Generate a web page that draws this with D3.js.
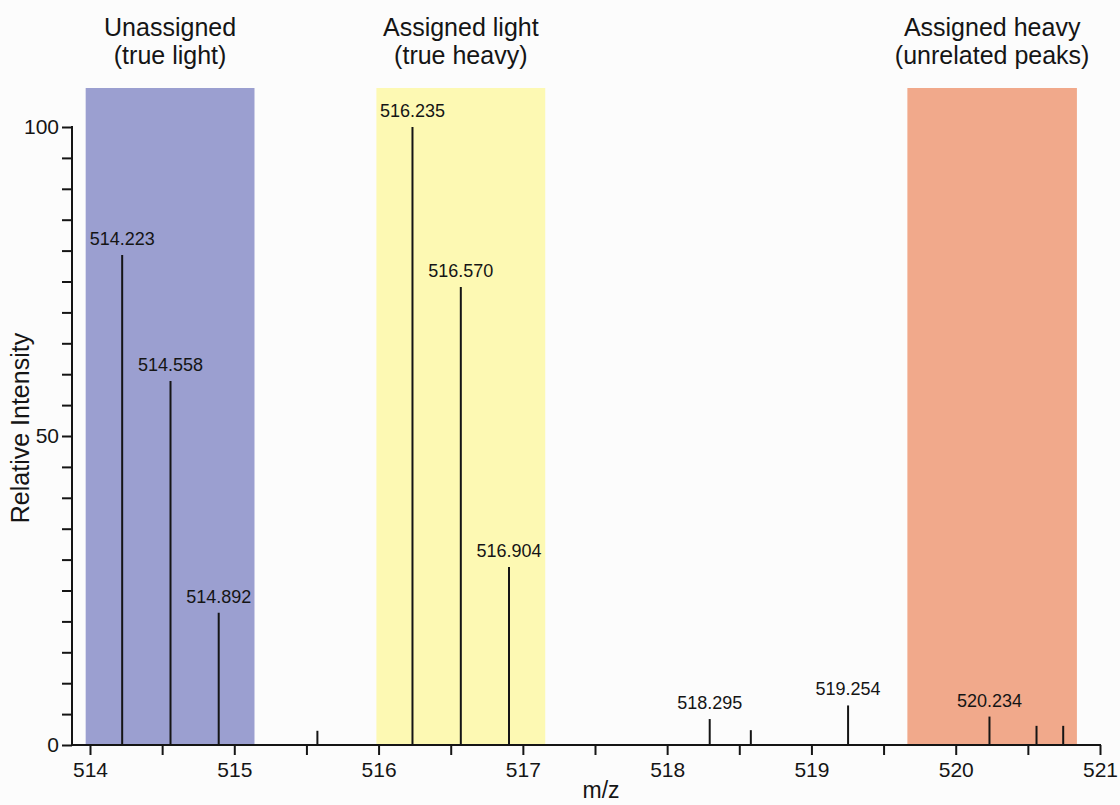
<!DOCTYPE html>
<html>
<head>
<meta charset="utf-8">
<script src="https://cdn.jsdelivr.net/npm/d3@7"></script>
<style>
  html, body { margin: 0; padding: 0; background: #fcfcfc; }
  svg { display: block; font-family: "Liberation Sans", Arial, sans-serif; }
</style>
</head>
<body>
<svg id="chart" width="1120" height="805"></svg>
<script>
// Peak list: m/z, relative intensity, and whether the m/z value is printed
const peakMz        = [514.223, 514.558, 514.892, 515.576, 516.235, 516.570, 516.904, 518.295, 518.580, 519.254, 520.234, 520.560, 520.745];
const peakIntensity = [79.3,    58.9,    21.4,    2.3,     100,     74.1,    28.8,    4.2,     2.4,     6.4,     4.6,     3.1,     3.1];
const peakLabeled   = [true,    true,    true,    false,   true,    true,    true,    true,    false,   true,    true,    false,   false];

// Shaded m/z windows with their captions
const bandStart  = [513.97, 515.985, 519.665];
const bandEnd    = [515.14, 517.155, 520.84];
const bandColor  = ["#9b9fd0", "#fdf9b3", "#f1a98b"];
const bandTitle1 = ["Unassigned", "Assigned light", "Assigned heavy"];
const bandTitle2 = ["(true light)", "(true heavy)", "(unrelated peaks)"];

const xMajorTicks = [514, 515, 516, 517, 518, 519, 520, 521];
const yMajorTicks = [0, 50, 100];

const ink = "#151515";
const svg = d3.select("#chart");
const x = d3.scaleLinear().domain([514, 521]).range([90, 1100]);
const y = d3.scaleLinear().domain([0, 100]).range([745, 127]);
const axisY0 = y(0), axisX0 = 72;

// Shaded windows
const bands = bandStart.map((s, i) => ({s, e: bandEnd[i], c: bandColor[i], t1: bandTitle1[i], t2: bandTitle2[i]}));
svg.selectAll("rect.band").data(bands).join("rect")
  .attr("class", "band")
  .attr("x", d => x(d.s)).attr("width", d => x(d.e) - x(d.s))
  .attr("y", 88).attr("height", axisY0 - 88)
  .attr("fill", d => d.c);

svg.selectAll("text.t1").data(bands).join("text")
  .attr("class", "t1")
  .attr("x", d => (x(d.s) + x(d.e)) / 2).attr("y", 36)
  .attr("text-anchor", "middle").attr("font-size", 25).attr("fill", ink)
  .text(d => d.t1);
svg.selectAll("text.t2").data(bands).join("text")
  .attr("class", "t2")
  .attr("x", d => (x(d.s) + x(d.e)) / 2).attr("y", 64)
  .attr("text-anchor", "middle").attr("font-size", 25).attr("fill", ink)
  .text(d => d.t2);

// Peaks
const peaks = peakMz.map((m, i) => ({m, v: peakIntensity[i], lab: peakLabeled[i]}));
svg.selectAll("line.peak").data(peaks).join("line")
  .attr("class", "peak")
  .attr("x1", d => x(d.m)).attr("x2", d => x(d.m))
  .attr("y1", axisY0).attr("y2", d => y(d.v))
  .attr("stroke", ink).attr("stroke-width", 2);
svg.selectAll("text.plab").data(peaks.filter(d => d.lab)).join("text")
  .attr("class", "plab")
  .attr("x", d => x(d.m)).attr("y", d => y(d.v) - 10)
  .attr("text-anchor", "middle").attr("font-size", 18).attr("fill", ink)
  .text(d => d.m.toFixed(3));

// X axis
const xAxis = d3.axisBottom(x)
  .tickValues(d3.range(514, 521.01, 0.5))
  .tickSize(10).tickPadding(7)
  .tickFormat(d => xMajorTicks.includes(d) ? d3.format("d")(d) : "");
const gx = svg.append("g").attr("transform", `translate(0,${axisY0})`).call(xAxis);
gx.select(".domain").remove();
gx.append("line").attr("x1", axisX0).attr("x2", x(521) + 1).attr("y1", 0).attr("y2", 0)
  .attr("stroke", ink).attr("stroke-width", 2);
gx.selectAll(".tick line").attr("stroke", ink).attr("stroke-width", 2);
gx.selectAll(".tick text").attr("font-size", 21).attr("fill", ink)
  .attr("font-family", "Liberation Sans, Arial, sans-serif");

// Y axis
const yAxis = d3.axisLeft(y)
  .tickValues(d3.range(0, 100.01, 5))
  .tickSize(10).tickPadding(3)
  .tickFormat(d => yMajorTicks.includes(d) ? d3.format("d")(d) : "");
const gy = svg.append("g").attr("transform", `translate(${axisX0},0)`).call(yAxis);
gy.select(".domain").remove();
gy.append("line").attr("x1", 0).attr("x2", 0).attr("y1", y(100) - 1).attr("y2", axisY0 + 1)
  .attr("stroke", ink).attr("stroke-width", 2);
gy.selectAll(".tick line").attr("stroke", ink).attr("stroke-width", 2);
gy.selectAll(".tick text").attr("font-size", 21).attr("fill", ink)
  .attr("font-family", "Liberation Sans, Arial, sans-serif");

// Axis titles
svg.append("text").attr("x", 601).attr("y", 798)
  .attr("text-anchor", "middle").attr("font-size", 23).attr("fill", ink).text("m/z");
svg.append("text").attr("transform", "translate(29,428) rotate(-90)")
  .attr("text-anchor", "middle").attr("font-size", 25).attr("fill", ink).text("Relative Intensity");
</script>
</body>
</html>
